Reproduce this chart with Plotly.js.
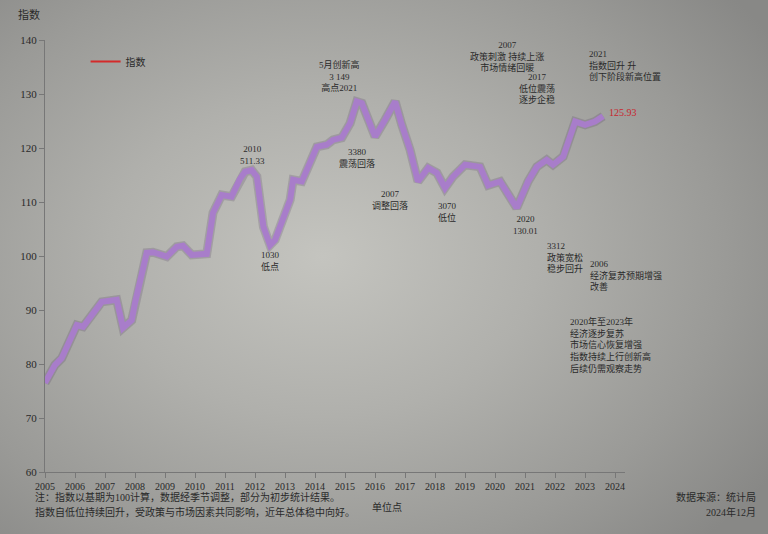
<!DOCTYPE html>
<html>
<head>
<meta charset="utf-8">
<script src="https://cdn.plot.ly/plotly-3.0.1.min.js"></script>
<style>
html,body{margin:0;padding:0;}
body{width:768px;height:534px;overflow:hidden;
background: radial-gradient(ellipse 70% 75% at 42% 48%, #c4c4bf 0%, #b0b0ac 40%, #9a9a97 75%, #888886 100%);}
#chart{width:768px;height:534px;}
</style>
</head>
<body>
<div id="chart"></div>
<script>
// ---- data ----
const years = [2005.00,2005.33,2005.56,2006.06,2006.27,2006.89,2007.39,2007.60,2007.89,2008.00,2008.39,2008.60,2009.06,2009.39,2009.60,2009.89,2010.39,2010.60,2010.89,2011.22,2011.50,2011.67,2011.89,2012.06,2012.28,2012.50,2012.67,2012.93,2013.17,2013.27,2013.56,2014.06,2014.39,2014.60,2014.89,2015.17,2015.39,2015.56,2016.00,2016.33,2016.67,2016.89,2017.17,2017.43,2017.77,2018.06,2018.33,2018.60,2019.00,2019.50,2019.77,2020.17,2020.72,2021.10,2021.39,2021.72,2021.93,2022.27,2022.67,2023.00,2023.33,2023.60];
const values = [76.5,79.8,81.1,87.2,86.9,91.5,91.9,86.7,88.1,91.3,100.6,100.7,99.9,101.7,101.9,100.2,100.4,108.0,111.3,111.0,114.3,115.6,115.9,114.7,105.4,102.0,103.0,106.7,110.4,114.1,113.8,120.2,120.6,121.5,121.9,124.6,128.6,128.3,122.1,125.2,128.6,124.3,119.6,113.8,116.3,115.4,112.6,114.7,116.9,116.5,113.1,113.8,108.9,113.8,116.5,117.8,116.9,118.4,124.9,124.3,124.9,125.9];
const tickYears = [2005,2006,2007,2008,2009,2010,2011,2012,2013,2014,2015,2016,2017,2018,2019,2020,2021,2022,2023,2024];
const tickLabels = tickYears.map(String);
const yTicks = [60,70,80,90,100,110,120,130,140];
const seriesName = "指数";
const lastLabel = "125.93";

// annotations (content)
const noteX = [2011.9, 2012.53, 2014.8, 2015.4, 2016.5, 2018.4, 2020.4, 2021.4, 2021.0];
const noteY = [118.7, 99.1, 133.3, 118.1, 110.4, 108.1, 137.0, 131.1, 105.7];
const noteText = [
  "2010<br>511.33",
  "1030<br>低点",
  "5月创新高<br>3 149<br>高点2021",
  "3380<br>震荡回落",
  "2007<br>调整回落",
  "3070<br>低位",
  "2007<br>政策刺激 持续上涨<br>市场情绪回暖",
  "2017<br>低位震荡<br>逐步企稳",
  "2020<br>130.01"
];
const sideX = [2023.07, 2021.67, 2023.1, 2022.43];
const sideY = [135.2, 99.8, 96.3, 83.5];
const sideText = [
  "2021<br>指数回升 升<br>创下阶段新高位置",
  "3312<br>政策宽松<br>稳步回升",
  "2006<br>经济复苏预期增强<br>改善",
  "2020年至2023年<br>经济逐步复苏<br>市场信心恢复增强<br>指数持续上行创新高<br>后续仍需观察走势"
];
const footLines = [
  "注：指数以基期为100计算，数据经季节调整，部分为初步统计结果。",
  "指数自低位持续回升，受政策与市场因素共同影响，近年总体稳中向好。"
];
const unitText = "单位点";
const sourceLines = ["数据来源：统计局", "2024年12月"];

const FONT = '"Liberation Serif", "Noto Sans CJK SC", serif';
const TXT = '#2a2a2a';

const traces = [
  { x: years, y: values, mode: 'lines', showlegend: false, hoverinfo: 'skip',
    line: { color: 'rgba(70,50,90,0.2)', width: 9, shape: 'linear' } },
  { x: years, y: values, mode: 'lines', showlegend: false,
    line: { color: '#a87dca', width: 6 } },
  { x: [years[years.length-1]], y: [values[values.length-1]], mode: 'lines', name: seriesName,
    line: { color: '#d42a2a', width: 2 } }
];

const annotations = [];
noteText.forEach((t, i) => annotations.push({
  x: noteX[i], y: noteY[i], xref: 'x', yref: 'y', text: t, showarrow: false,
  xanchor: 'center', yanchor: 'middle', align: 'center',
  font: { family: FONT, size: 9, color: TXT }
}));
sideText.forEach((t, i) => annotations.push({
  x: sideX[i], y: sideY[i], xref: 'x', yref: 'y', text: t, showarrow: false,
  xanchor: 'left', yanchor: 'middle', align: 'left',
  font: { family: FONT, size: 9, color: TXT }
}));
annotations.push({
  x: years[years.length-1], y: values[values.length-1], xref: 'x', yref: 'y',
  text: lastLabel, showarrow: false, xanchor: 'left', yanchor: 'bottom', xshift: 4, yshift: -4,
  font: { family: FONT, size: 10, color: '#c8262e' }
});
annotations.push({ xref: 'paper', yref: 'paper', x: -0.05, y: 1.06, xanchor: 'left', yanchor: 'middle',
  text: seriesName, showarrow: false, font: { family: FONT, size: 11, color: TXT } });
footLines.forEach((t, i) => annotations.push({
  xref: 'paper', yref: 'paper', x: -0.021, y: -0.058 - i * 0.035, xanchor: 'left', yanchor: 'middle',
  text: t, showarrow: false, font: { family: FONT, size: 10, color: TXT }
}));
annotations.push({ xref: 'paper', yref: 'paper', x: 0.59, y: -0.08, xanchor: 'center', yanchor: 'middle',
  text: unitText, showarrow: false, font: { family: FONT, size: 10, color: TXT } });
sourceLines.forEach((t, i) => annotations.push({
  xref: 'paper', yref: 'paper', x: 1.23, y: -0.058 - i * 0.035, xanchor: 'right', yanchor: 'middle',
  text: t, showarrow: false, font: { family: FONT, size: 10, color: TXT }
}));

const layout = {
  width: 768, height: 534,
  paper_bgcolor: 'rgba(0,0,0,0)', plot_bgcolor: 'rgba(0,0,0,0)',
  margin: { l: 45, r: 143, t: 40, b: 62 },
  font: { family: FONT, size: 11, color: TXT },
  xaxis: {
    range: [2005, 2024.33], tickvals: tickYears, ticktext: tickLabels,
    showgrid: false, zeroline: false, showline: true, linecolor: '#777', linewidth: 1,
    ticks: 'outside', ticklen: 5, tickcolor: '#777', tickangle: 0,
    tickfont: { family: FONT, size: 10, color: TXT }
  },
  yaxis: {
    range: [60, 140], tickvals: yTicks,
    showgrid: false, zeroline: false, showline: true, linecolor: '#777', linewidth: 1,
    ticks: 'outside', ticklen: 5, tickcolor: '#777',
    tickfont: { family: FONT, size: 11, color: TXT }
  },
  legend: { x: 0.07, y: 0.95, xanchor: 'left', yanchor: 'middle', bgcolor: 'rgba(0,0,0,0)',
    font: { family: FONT, size: 10, color: TXT } },
  annotations: annotations,
  showlegend: true
};

Plotly.newPlot('chart', traces, layout, { displayModeBar: false, staticPlot: true });
</script>
</body>
</html>
